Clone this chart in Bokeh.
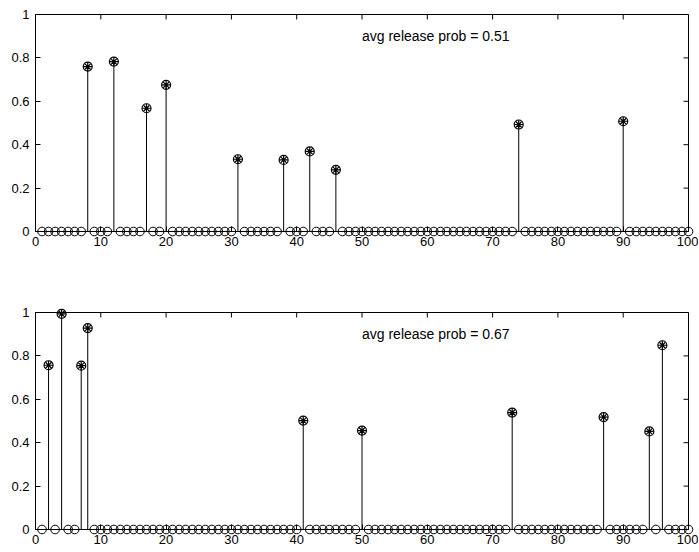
import math
from bokeh.plotting import figure
from bokeh.layouts import column
from bokeh.models import FixedTicker, NumeralTickFormatter, LinearAxis, Range1d
from bokeh.core.properties import value
from bokeh.embed import file_html
from bokeh.resources import INLINE

# ---- data ----
trials = list(range(1, 101))

top_release_x = [8, 12, 17, 20, 31, 38, 42, 46, 74, 90]
top_release_y = [0.76, 0.783, 0.568, 0.676, 0.333, 0.330, 0.369, 0.284, 0.493, 0.508]
top_label = "avg release prob = 0.51"

bot_release_x = [2, 4, 7, 8, 41, 50, 73, 87, 94, 96]
bot_release_y = [0.757, 0.994, 0.755, 0.928, 0.502, 0.456, 0.539, 0.518, 0.452, 0.849]
bot_label = "avg release prob = 0.67"

x_ticks = [0, 10, 20, 30, 40, 50, 60, 70, 80, 90, 100]
y_ticks = [0, 0.2, 0.4, 0.6, 0.8, 1]

FONT = "Liberation Sans"


def make_panel(rx, ry, label, height, border_top, border_bottom):
    p = figure(width=698, height=height, output_backend="svg", toolbar_location=None,
               x_range=Range1d(0, 100), y_range=Range1d(0, 1),
               min_border_left=35, min_border_right=10, min_border_top=border_top,
               min_border_bottom=border_bottom, x_axis_location=None, y_axis_location=None)
    p.xgrid.visible = False
    p.ygrid.visible = False
    p.outline_line_color = "black"
    p.outline_line_width = 1
    p.background_fill_color = "white"
    p.border_fill_color = "white"

    def style(ax, ticks):
        ax.ticker = FixedTicker(ticks=ticks)
        ax.major_tick_in = 5
        ax.major_tick_out = 0
        ax.minor_tick_line_color = None
        ax.axis_line_color = "black"
        ax.major_tick_line_color = "black"
        ax.major_label_text_font = FONT
        ax.major_label_text_color = "black"
        ax.major_label_text_font_size = "13px"

    bx = LinearAxis(formatter=NumeralTickFormatter(format="0"))
    style(bx, x_ticks)
    bx.major_label_standoff = 5
    p.add_layout(bx, "below")
    ly = LinearAxis(formatter=NumeralTickFormatter(format="0.[0]"))
    style(ly, y_ticks)
    ly.major_label_standoff = 6
    p.add_layout(ly, "left")

    # inward tick marks on the top and right edges of the box
    p.ray(x=x_ticks, y=[1] * len(x_ticks), length=5, length_units="screen",
          angle=-math.pi / 2, line_color="black", line_width=1)
    p.ray(x=[100] * len(y_ticks), y=y_ticks, length=5, length_units="screen",
          angle=math.pi, line_color="black", line_width=1)

    zx = [t for t in trials if t not in rx]
    zy = [0.0] * len(zx)
    p.segment(x0=rx, y0=[0] * len(rx), x1=rx, y1=ry, line_color="black", line_width=1)
    p.scatter(x=zx, y=zy, marker="circle", size=8.6, fill_color=None,
              line_color="black", line_width=1, level="overlay")
    p.scatter(x=rx, y=ry, marker="circle", size=9, fill_color=None,
              line_color="black", line_width=1.2, level="overlay")
    p.scatter(x=rx, y=ry, marker="asterisk", size=8.5, line_color="black",
              line_width=1.2, level="overlay")
    p.text(x=[50], y=[0.9], text=[label], text_font=value(FONT), text_font_size="14px",
           text_align="left", text_baseline="middle", text_color="black")
    return p


p1 = make_panel(top_release_x, top_release_y, top_label, 306, 14, 75)
p2 = make_panel(bot_release_x, bot_release_y, bot_label, 245, 6, 22)
p = column(p1, p2, spacing=0)

open("out.html", "w").write(file_html(p, INLINE))
